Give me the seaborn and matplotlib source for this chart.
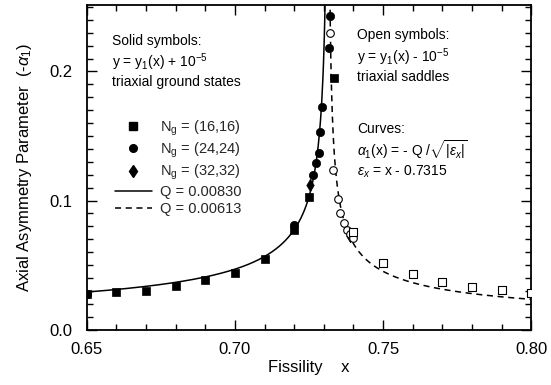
import numpy as np
import pandas as pd
import matplotlib
matplotlib.use("Agg")
import matplotlib.pyplot as plt
from matplotlib.lines import Line2D
from matplotlib.ticker import MultipleLocator
import seaborn as sns

# ---- data ----
sq16_x = [0.65, 0.66, 0.67, 0.68, 0.69, 0.70, 0.71, 0.72, 0.725, 0.7335]
sq16_y = [0.0275, 0.0288, 0.0301, 0.0340, 0.0381, 0.0440, 0.0544, 0.0770, 0.1030, 0.1950]

ci24_x = [0.65, 0.72, 0.7265, 0.7274, 0.7283, 0.7288, 0.7293, 0.7316, 0.7322]
ci24_y = [0.0275, 0.0810, 0.1197, 0.1288, 0.1366, 0.1530, 0.1727, 0.2185, 0.2430]

di32_x = [0.7252, 0.7389]
di32_y = [0.1120, 0.0725]

oc_x = [0.7322, 0.7330, 0.7347, 0.7356, 0.7367, 0.7377, 0.7387, 0.7400]
oc_y = [0.2296, 0.1236, 0.1010, 0.0906, 0.0828, 0.0771, 0.0738, 0.0707]

os_x = [0.740, 0.750, 0.760, 0.770, 0.780, 0.790, 0.800]
os_y = [0.0758, 0.0518, 0.0430, 0.0368, 0.0327, 0.0306, 0.0285]

# curve parameters (as printed on the chart)
Q_solid = 0.00830
Q_dashed = 0.00613
x_crit = 0.7315

xticks = [0.65, 0.70, 0.75, 0.80]
xtick_labels = ["0.65", "0.70", "0.75", "0.80"]
yticks = [0.0, 0.1, 0.2]
ytick_labels = ["0.0", "0.1", "0.2"]

# ---- styling ----
sns.set_theme(style="ticks")
plt.rcParams["font.family"] = ["Liberation Sans", "DejaVu Sans"]
plt.rcParams["mathtext.fontset"] = "custom"
plt.rcParams["mathtext.rm"] = "Liberation Sans"
plt.rcParams["mathtext.it"] = "Liberation Sans:italic"

fig = plt.figure(figsize=(5.51, 3.85), dpi=100)
ax = fig.add_axes([0.157, 0.144, 0.8076, 0.843])

# curves
xs_left = np.linspace(0.65, x_crit - 0.0010, 400)
xs_right = np.linspace(x_crit + 0.0005, 0.80, 400)
df_l = pd.DataFrame({"x": xs_left, "y": Q_solid / np.sqrt(np.abs(xs_left - x_crit))})
df_r = pd.DataFrame({"x": xs_right, "y": Q_dashed / np.sqrt(np.abs(xs_right - x_crit))})
sns.lineplot(data=df_l, x="x", y="y", ax=ax, color="black", lw=1.1, sort=False)
sns.lineplot(data=df_r, x="x", y="y", ax=ax, color="black", lw=1.1, sort=False,
             linestyle=(0, (4, 3)))

# symbols
sns.scatterplot(x=sq16_x, y=sq16_y, ax=ax, marker="s", s=40, color="black",
                edgecolor="black", linewidth=0.5, zorder=5)
sns.scatterplot(x=ci24_x, y=ci24_y, ax=ax, marker="o", s=36, color="black",
                edgecolor="black", linewidth=0.5, zorder=5)
sns.scatterplot(x=di32_x, y=di32_y, ax=ax, marker="d", s=40, color="black",
                edgecolor="black", linewidth=0.5, zorder=5)
sns.scatterplot(x=oc_x, y=oc_y, ax=ax, marker="o", s=30, facecolor="white",
                edgecolor="black", linewidth=0.8, zorder=5)
sns.scatterplot(x=os_x, y=os_y, ax=ax, marker="s", s=34, facecolor="white",
                edgecolor="black", linewidth=0.8, zorder=5)

ax.set_xlim(0.65, 0.80)
ax.set_ylim(0.0, 0.2515)
ax.set_xticks(xticks)
ax.set_xticklabels(xtick_labels)
ax.set_yticks(yticks)
ax.set_yticklabels(ytick_labels)
ax.xaxis.set_minor_locator(MultipleLocator(0.01))
ax.yaxis.set_minor_locator(MultipleLocator(0.01))
ax.tick_params(which="both", direction="in", top=True, right=True,
               colors="black", labelsize=12, width=1.0)
ax.tick_params(which="major", length=7)
ax.tick_params(which="minor", length=4)
ax.tick_params(axis="x", which="major", pad=9)
ax.tick_params(axis="y", which="major", pad=10)
for sp in ax.spines.values():
    sp.set_color("black")
    sp.set_linewidth(1.3)

ax.set_xlabel("Fissility    x", fontsize=12, color="black", labelpad=2)
ax.set_ylabel(r"Axial Asymmetry Parameter  (-$\alpha_1$)", fontsize=12,
              color="black", labelpad=11)

# annotation text
tk = dict(fontsize=10, color="black", transform=ax.transData, va="top", ha="left")
ax.text(0.6587, 0.2290, "Solid symbols:\n" + r"y = y$_1$(x) + 10$^{-5}$" +
        "\ntriaxial ground states", linespacing=1.2, **tk)
ax.text(0.7412, 0.2335, "Open symbols:\n" + r"y = y$_1$(x) - 10$^{-5}$" +
        "\ntriaxial saddles", linespacing=1.25, **tk)
ax.text(0.7412, 0.1610, "Curves:\n" + r"$\alpha_1$(x) = - Q /$\sqrt{|\epsilon_x|}$" +
        "\n" + r"$\epsilon_x$ = x - 0.7315", linespacing=1.15, **tk)

handles = [
    Line2D([], [], marker="s", color="black", ls="none", markersize=5.5),
    Line2D([], [], marker="o", color="black", ls="none", markersize=5.5),
    Line2D([], [], marker="d", color="black", ls="none", markersize=6),
    Line2D([], [], color="black", lw=1.1),
    Line2D([], [], color="black", lw=1.1, linestyle=(0, (4, 3))),
]
labels = [r"N$_\mathrm{g}$ = (16,16)", r"N$_\mathrm{g}$ = (24,24)",
          r"N$_\mathrm{g}$ = (32,32)", "Q = 0.00830", "Q = 0.00613"]
leg = ax.legend(handles, labels, loc="upper left", bbox_to_anchor=(0.04, 0.682),
                frameon=False, fontsize=10.5, handlelength=2.6, handletextpad=0.5,
                labelspacing=0.2, borderpad=0.2)

fig.savefig("out.png", dpi=100)
